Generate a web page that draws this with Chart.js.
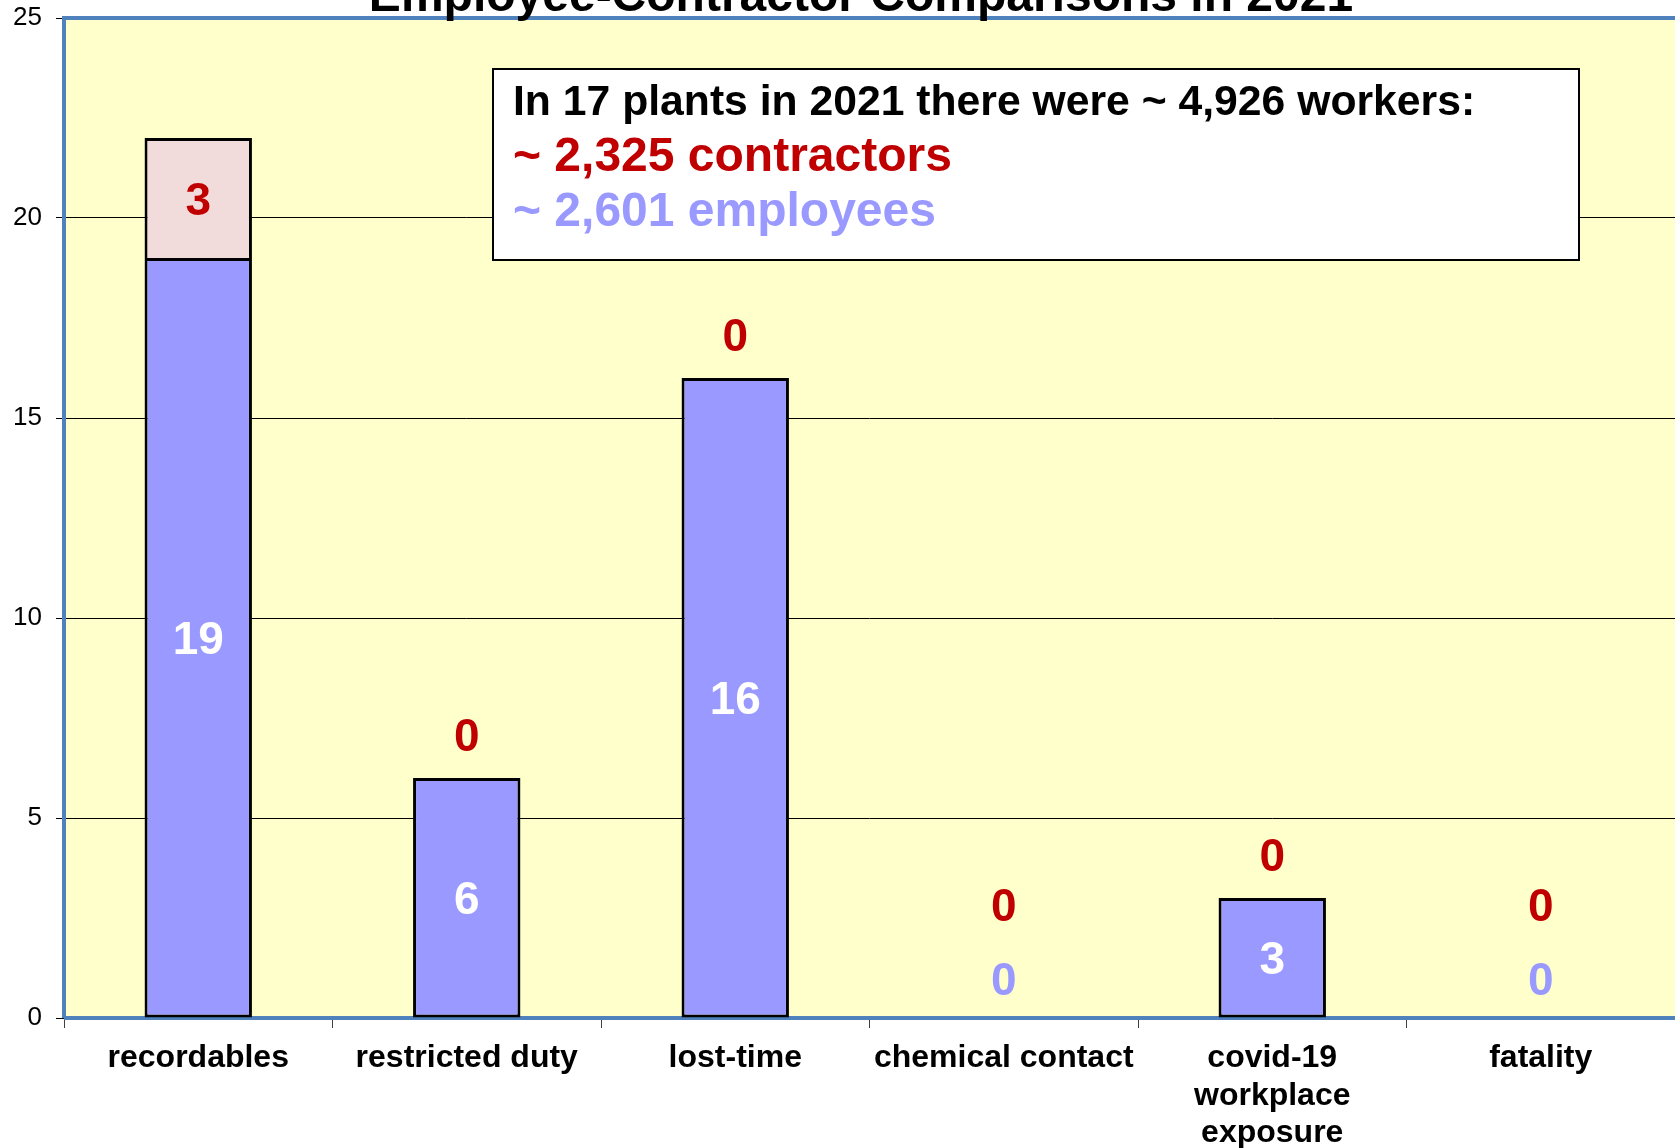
<!DOCTYPE html>
<html>
<head>
<meta charset="utf-8">
<script src="https://cdn.jsdelivr.net/npm/chart.js@4.4.0/dist/chart.umd.min.js"></script>
<style>
    html, body { margin: 0; padding: 0; background: #ffffff; }
    #wrap { width: 1675px; height: 1148px; position: relative; overflow: hidden; }
</style>
</head>
<body>
<div id="wrap"><canvas id="chart" width="1675" height="1148"></canvas></div>
<script>
// Data
const categories = ['recordables', 'restricted duty', 'lost-time', 'chemical contact', ['covid-19', 'workplace', 'exposure'], 'fatality'];
const employees = [19, 6, 16, 0, 3, 0];
const contractors = [3, 0, 0, 0, 0, 0];
const yTicks = [0, 5, 10, 15, 20, 25];

const titleText = 'Employee-Contractor Comparisons in 2021';
const noteHeader = 'In 17 plants in 2021 there were ~ 4,926 workers:';
const noteContractors = '~ 2,325 contractors';
const noteEmployees = '~ 2,601 employees';

const FONT = '"Liberation Sans", Arial, sans-serif';
const EMP_COLOR = '#9999ff';
const CON_COLOR = '#f2dcdb';
const RED = '#c00000';
const FRAME_BLUE = '#4f81bd';

// Background and frame of the plot area
const plotFrame = {
    id: 'plotFrame',
    beforeDraw(chart) {
        const { ctx, chartArea: a } = chart;
        ctx.save();
        ctx.fillStyle = '#ffffff';
        ctx.fillRect(0, 0, chart.width, chart.height);
        ctx.fillStyle = '#ffffcc';
        ctx.fillRect(a.left, a.top, a.right - a.left, a.bottom - a.top);
        ctx.restore();
    },
    beforeDatasetsDraw(chart) {
        const { ctx, chartArea: a } = chart;
        ctx.save();
        ctx.strokeStyle = FRAME_BLUE;
        ctx.lineWidth = 4;
        ctx.beginPath();
        ctx.moveTo(a.left, a.bottom);
        ctx.lineTo(a.left, a.top);
        ctx.lineTo(a.right + 5, a.top);
        ctx.stroke();
        ctx.beginPath();
        ctx.moveTo(a.left, a.bottom);
        ctx.lineTo(a.right + 5, a.bottom);
        ctx.stroke();
        ctx.restore();
    }
};

// Value labels
const valueLabels = {
    id: 'valueLabels',
    afterDatasetsDraw(chart) {
        const ctx = chart.ctx;
        const empBars = chart.getDatasetMeta(0).data;
        const conBars = chart.getDatasetMeta(1).data;
        ctx.save();
        ctx.font = 'bold 46px ' + FONT;
        ctx.textAlign = 'center';
        ctx.textBaseline = 'middle';
        employees.forEach((v, i) => {
            const b = empBars[i];
            const ey = v > 0 ? (b.y + b.base) / 2 + 4 : b.base - 36;
            ctx.fillStyle = v > 0 ? '#ffffff' : EMP_COLOR;
            ctx.fillText(String(v), b.x, ey);

            const c = conBars[i];
            const cv = contractors[i];
            let cy;
            if (cv > 0) cy = (c.y + c.base) / 2 + 4;
            else if (v > 0) cy = c.y - 40;
            else cy = b.base - 110;
            ctx.fillStyle = RED;
            ctx.fillText(String(cv), c.x, cy);
        });
        ctx.restore();
    }
};

// Title (cut off at the top) and the note box
const overlay = {
    id: 'overlay',
    afterDraw(chart) {
        const ctx = chart.ctx;
        ctx.save();
        ctx.textAlign = 'center';
        ctx.textBaseline = 'alphabetic';
        ctx.fillStyle = '#000000';
        ctx.font = 'bold 48px ' + FONT;
        ctx.fillText(titleText, 861, 11);

        ctx.fillStyle = '#ffffff';
        ctx.fillRect(493, 69, 1086, 191);
        ctx.strokeStyle = '#000000';
        ctx.lineWidth = 2;
        ctx.strokeRect(493, 69, 1086, 191);

        ctx.textAlign = 'left';
        ctx.fillStyle = '#000000';
        ctx.font = 'bold 42.7px ' + FONT;
        ctx.fillText(noteHeader, 513, 115);
        ctx.font = 'bold 48px ' + FONT;
        ctx.fillStyle = RED;
        ctx.fillText(noteContractors, 513, 171);
        ctx.fillStyle = EMP_COLOR;
        ctx.fillText(noteEmployees, 513, 226);
        ctx.restore();
    }
};

const ctx = document.getElementById('chart').getContext('2d');
new Chart(ctx, {
    type: 'bar',
    data: {
        labels: categories,
        datasets: [
            {
                label: 'employees',
                data: employees,
                backgroundColor: EMP_COLOR,
                borderColor: '#000000',
                borderWidth: c => (c.raw === 0 ? 0 : 3),
                borderSkipped: false,
                categoryPercentage: 0.8,
                barPercentage: 0.5
            },
            {
                label: 'contractors',
                data: contractors,
                backgroundColor: CON_COLOR,
                borderColor: '#000000',
                borderWidth: c => (c.raw === 0 ? 0 : 3),
                borderSkipped: 'start',
                categoryPercentage: 0.8,
                barPercentage: 0.5
            }
        ]
    },
    options: {
        responsive: false,
        animation: false,
        layout: { padding: { top: 18, left: 0, right: 0, bottom: 0 } },
        plugins: {
            legend: { display: false },
            title: { display: false },
            tooltip: { enabled: false }
        },
        scales: {
            x: {
                stacked: true,
                border: { display: false },
                grid: { offset: true, drawOnChartArea: false, tickLength: 10, color: '#404040', lineWidth: 1 },
                ticks: {
                    color: '#000000',
                    font: { family: FONT, size: 32, weight: 'bold', lineHeight: 1.16 },
                    padding: 12,
                    maxRotation: 0,
                    autoSkip: false
                },
                afterFit(scale) {
                    scale.height = 130;
                    scale.paddingLeft = 0;
                    scale.paddingRight = 0;
                }
            },
            y: {
                stacked: true,
                min: 0,
                max: 25,
                border: { display: false },
                grid: { color: '#000000', lineWidth: 1, tickLength: 8, tickColor: '#000000' },
                afterBuildTicks(scale) { scale.ticks = yTicks.map(v => ({ value: v })); },
                ticks: {
                    color: '#000000',
                    font: { family: FONT, size: 26 },
                    padding: 14
                },
                afterFit(scale) {
                    scale.width = 64;
                    scale.paddingTop = 0;
                    scale.paddingBottom = 0;
                }
            }
        }
    },
    plugins: [plotFrame, valueLabels, overlay]
});
</script>
</body>
</html>
